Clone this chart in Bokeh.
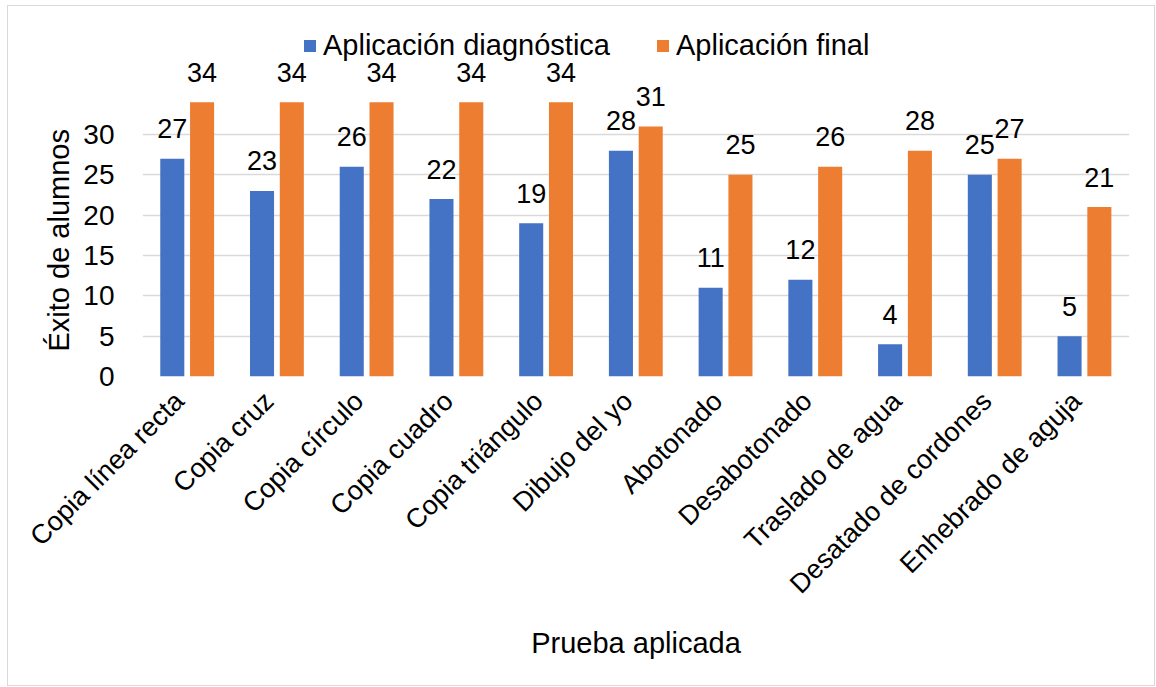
import math
from bokeh.plotting import figure
from bokeh.models import (ColumnDataSource, FixedTicker, Legend, LegendItem, Title, Range1d)
from bokeh.transform import dodge
from bokeh.core.properties import value
from bokeh.embed import file_html
from bokeh.resources import INLINE

categories = ["Copia línea recta", "Copia cruz", "Copia círculo", "Copia cuadro",
              "Copia triángulo", "Dibujo del yo", "Abotonado", "Desabotonado",
              "Traslado de agua", "Desatado de cordones", "Enhebrado de aguja"]
diagnostica = [27, 23, 26, 22, 19, 28, 11, 12, 4, 25, 5]
final = [34, 34, 34, 34, 34, 31, 25, 26, 28, 27, 21]
y_ticks = [0, 5, 10, 15, 20, 25, 30]
series_names = ["Aplicación diagnóstica", "Aplicación final"]

FONT = "Liberation Sans"
BLUE = "#4472C4"
ORANGE = "#ED7D31"
GRID = "#D9D9D9"

n = len(categories)
centers = [i + 0.5 for i in range(n)]
src = ColumnDataSource(dict(xc=centers, cat=categories, d=diagnostica, f=final,
                            dl=[str(v) for v in diagnostica], fl=[str(v) for v in final]))

p = figure(x_range=Range1d(0, n), y_range=(0, 45),
           width=1148, height=681, output_backend="svg", toolbar_location=None,
           min_border_left=134, min_border_right=27, min_border_top=7, min_border_bottom=311)
p.styles = {"border": "1.5px solid #d9d9d9", "box-sizing": "border-box",
            "margin-left": "7px", "margin-top": "5px"}
p.outline_line_color = None
p.background_fill_color = "white"
p.border_fill_color = "white"

r1 = p.vbar(x=dodge("xc", -0.168), top="d", width=0.268, source=src,
            fill_color=BLUE, line_color=None)
r2 = p.vbar(x=dodge("xc", 0.164), top="f", width=0.268, source=src,
            fill_color=ORANGE, line_color=None)

p.text(x=dodge("xc", -0.168), y="d", text="dl", source=src,
       text_align="center", text_baseline="alphabetic", y_offset=-30,
       text_font=value(FONT), text_font_size="27px", text_color="black")
p.text(x=dodge("xc", 0.164), y="f", text="fl", source=src,
       text_align="center", text_baseline="alphabetic", y_offset=-30,
       text_font=value(FONT), text_font_size="27px", text_color="black")

# y axis
p.yaxis.ticker = FixedTicker(ticks=y_ticks)
p.yaxis.axis_line_color = None
p.yaxis.major_tick_line_color = None
p.yaxis.minor_tick_line_color = None
p.yaxis.major_label_text_font = FONT
p.yaxis.major_label_text_font_size = "28px"
p.yaxis.major_label_text_color = "black"
p.yaxis.major_label_standoff = 22

# x axis: category names at (slightly shifted) category centres
label_pos = [c - 0.09 for c in centers]
p.xaxis.ticker = FixedTicker(ticks=label_pos)
p.xaxis.major_label_overrides = {pos: name for pos, name in zip(label_pos, categories)}
p.xaxis.axis_line_color = None
p.xaxis.major_tick_line_color = None
p.xaxis.minor_tick_line_color = None
p.xaxis.major_label_orientation = math.pi / 4
p.xaxis.major_label_text_font = FONT
p.xaxis.major_label_text_font_size = "27px"
p.xaxis.major_label_text_color = "black"
p.xaxis.major_label_standoff = 14
p.xaxis.axis_label = "Prueba aplicada"
p.xaxis.axis_label_text_font = FONT
p.xaxis.axis_label_text_font_size = "29px"
p.xaxis.axis_label_text_font_style = "normal"
p.xaxis.axis_label_text_color = "black"
p.xaxis.axis_label_standoff = 14

p.xgrid.grid_line_color = None
p.ygrid.grid_line_color = GRID
p.ygrid.grid_line_width = 1.3

ytitle = Title(text="Éxito de alumnos", align="left", offset=25,
               text_font=FONT, text_font_size="29px", text_font_style="normal",
               text_color="black", standoff=12)
p.add_layout(ytitle, "left")

legend = Legend(items=[LegendItem(label=series_names[0], renderers=[r1]),
                       LegendItem(label=series_names[1], renderers=[r2])],
                location=(160, 314), orientation="horizontal")
legend.label_text_font = FONT
legend.label_text_font_size = "29px"
legend.label_text_color = "black"
legend.glyph_width = 15
legend.glyph_height = 15
legend.label_standoff = 6
legend.spacing = 45
legend.padding = 0
legend.margin = 0
legend.border_line_color = None
legend.background_fill_alpha = 0
p.add_layout(legend)

open("out.html", "w").write(file_html(p, INLINE))
